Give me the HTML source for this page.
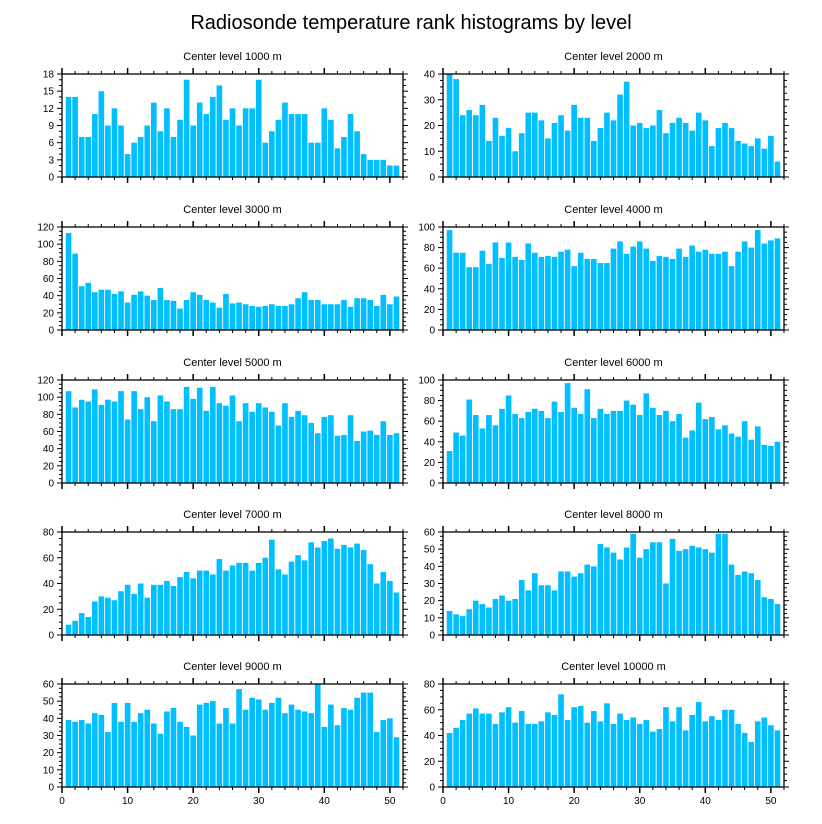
<!DOCTYPE html>
<html><head><meta charset="utf-8"><style>
html,body{margin:0;padding:0;background:#fff;}
svg{display:block;font-family:"Liberation Sans",sans-serif;}
</style></head><body>
<svg id="c" width="822" height="824">
<text x="411" y="29" text-anchor="middle" font-size="20">Radiosonde temperature rank histograms by level</text>
</svg>
<script>
const levels = ["1000","2000","3000","4000","5000","6000","7000","8000","9000","10000"];
const yMax = [18,40,120,100,120,100,80,60,60,80];
const yMajor = [3,10,20,20,20,20,20,10,10,20];
const yMinor = [1,2.5,5,5,5,5,5,2.5,2.5,5];
const xTicks = [0,10,20,30,40,50];
const v1000 = [14,14,7,7,11,15,9,12,9,4,6,7,9,13,8,12,7,10,17,9,13,11,14,16,10,12,9,12,12,17,6,8,10,13,11,11,11,6,6,12,10,5,7,11,8,4,3,3,3,2,2];
const v2000 = [40,38,24,26,24,28,14,23,16,19,10,17,25,25,22,15,21,24,18,28,23,23,14,19,25,22,32,37,20,21,19,20,26,17,21,23,21,18,25,22,12,19,21,19,14,13,12,15,11,16,6];
const v3000 = [113,89,51,55,44,47,47,42,45,32,41,45,40,35,49,35,34,25,35,44,41,35,32,26,42,31,32,30,28,27,28,30,28,28,30,37,44,35,35,30,30,30,35,27,37,37,35,28,41,30,39];
const v4000 = [97,75,75,61,61,77,64,85,70,85,71,68,84,75,71,72,71,76,78,62,75,69,69,65,65,79,86,74,81,86,79,67,72,71,69,79,71,82,76,78,74,74,76,62,76,86,80,97,84,87,89];
const v5000 = [107,88,97,95,109,91,97,95,107,74,107,86,100,72,102,95,86,86,112,98,111,84,112,93,90,102,72,93,83,93,88,83,67,93,77,84,79,70,58,77,79,55,56,79,49,60,61,56,72,56,58];
const v6000 = [31,49,46,81,66,53,66,56,72,85,67,63,69,72,70,63,79,69,97,73,67,91,63,72,67,70,70,80,76,66,87,73,66,70,60,67,44,51,78,62,64,52,56,48,45,60,42,55,37,36,40];
const v7000 = [8,11,17,14,26,30,29,27,34,39,32,40,29,39,39,42,38,45,49,44,50,50,47,59,50,54,56,56,50,56,60,74,51,47,57,62,58,72,68,73,75,67,70,68,71,66,55,40,49,42,33];
const v8000 = [14,12,11,15,20,18,16,21,23,20,21,32,26,36,29,29,26,37,37,34,36,41,40,53,51,48,44,51,59,45,50,54,54,30,56,49,50,52,51,50,48,59,59,41,35,37,36,32,22,21,18];
const v9000 = [39,38,39,37,43,42,32,49,38,49,38,43,45,37,31,44,46,38,35,30,48,49,50,37,46,37,57,45,52,51,45,49,52,43,48,45,44,43,60,35,48,36,46,45,52,55,55,32,39,40,29];
const v10000 = [42,46,52,57,61,57,57,49,58,62,50,59,49,49,51,58,56,72,52,62,63,50,59,51,65,49,57,52,54,49,52,43,45,62,51,62,44,56,66,51,55,52,60,60,49,42,35,51,54,48,44];
const series = [v1000,v2000,v3000,v4000,v5000,v6000,v7000,v8000,v9000,v10000];

const svg = document.getElementById('c');
const NS = 'http://www.w3.org/2000/svg';
function mk(tag, attrs, parent){
  const e = document.createElementNS(NS, tag);
  for (const k in attrs) e.setAttribute(k, attrs[k]);
  (parent||svg).appendChild(e);
  return e;
}
const colX = [62, 443], W = 341, H = 103;
const rowY = [74, 227, 380, 532, 684];
const X_MIN = 0, X_MAX = 52;

series.forEach((vals, p) => {
  const col = p % 2, row = Math.floor(p / 2);
  const L = colX[col], T = rowY[row], B = T + H, R = L + W;
  const g = mk('g', {});
  
  
  const xs = v => L + (v - X_MIN) / (X_MAX - X_MIN) * W;
  const ys = v => B - v / yMax[p] * H;
  const t = mk('text', {x: L + W/2, y: T - 14, 'text-anchor':'middle', 'font-size':'11'}, g);
  t.textContent = 'Center level ' + levels[p] + ' m';
  
  
  vals.forEach((v, i) => {
    const x = i + 1, bw = 0.86;
    const r = mk('rect', {x: xs(x - bw/2), y: ys(v), width: xs(bw) - xs(0), height: B - ys(v), fill: '#00bfff'}, g);
    
    
  });
  // y ticks
  for (let yv = 0; yv <= yMax[p] + 1e-9; yv += yMinor[p]) {
    const yy = ys(yv);
    const major = Math.abs(yv / yMajor[p] - Math.round(yv / yMajor[p])) < 1e-6;
    const len = major ? 5 : 3;
    mk('line', {x1: L - len, x2: L, y1: yy, y2: yy, stroke: '#000', 'stroke-width': 1}, g);
    mk('line', {x1: R, x2: R + len, y1: yy, y2: yy, stroke: '#000', 'stroke-width': 1}, g);
    if (major) {
      const lt = mk('text', {x: L - 8, y: yy + 3.5, 'text-anchor':'end', 'font-size':'10'}, g);
      lt.textContent = String(Math.round(yv));
      
      
    }
  }
  // x ticks
  for (let xv = 0; xv <= X_MAX; xv += 2) {
    const xx = xs(xv);
    const major = xTicks.indexOf(xv) >= 0;
    const len = major ? 6 : 3;
    mk('line', {x1: xx, x2: xx, y1: T - len, y2: T, stroke: '#000', 'stroke-width': major ? 1.5 : 1}, g);
    mk('line', {x1: xx, x2: xx, y1: B, y2: B + len, stroke: '#000', 'stroke-width': major ? 1.5 : 1}, g);
  }
  if (row === 4) {
    xTicks.forEach(xv => {
      const lt = mk('text', {x: xs(xv), y: B + 17, 'text-anchor':'middle', 'font-size':'10'}, g);
      lt.textContent = String(xv);
      
      
    });
  }
  const box = mk('rect', {x: L, y: T, width: W, height: H, fill: 'none', stroke: '#000', 'stroke-width': 1.3}, g);
  
  
});
</script>
</body></html>
